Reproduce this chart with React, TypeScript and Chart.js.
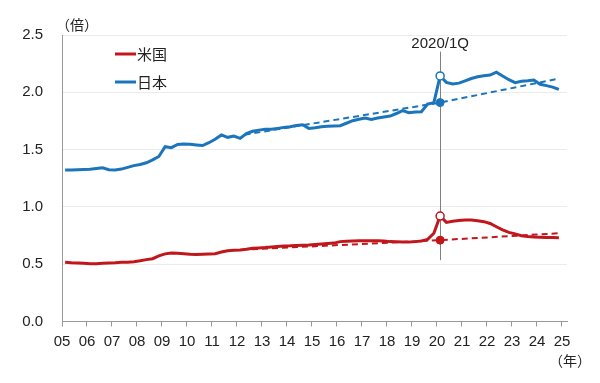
import React, { useEffect, useRef } from "react";
import { Chart, registerables } from "chart.js";

Chart.register(...registerables);

const startYear = 2005;
const tickLabels = ["05","06","07","08","09","10","11","12","13","14","15","16","17","18","19","20","21","22","23","24","25"];

// Quarterly values, 2005Q1 .. 2024Q4
const japan = [
  1.322, 1.322, 1.325, 1.327,
  1.328, 1.335, 1.342, 1.325,
  1.322, 1.330, 1.345, 1.360,
  1.370, 1.385, 1.410, 1.440,
  1.525, 1.517, 1.545, 1.548,
  1.546, 1.540, 1.535, 1.560,
  1.590, 1.628, 1.607, 1.618,
  1.598, 1.640, 1.660, 1.670,
  1.677, 1.677, 1.685, 1.694,
  1.700, 1.710, 1.717, 1.685,
  1.690, 1.700, 1.703, 1.706,
  1.709, 1.730, 1.752, 1.765,
  1.776, 1.764, 1.775, 1.785,
  1.793, 1.815, 1.840, 1.822,
  1.828, 1.831, 1.898, 1.910,
  2.143, 2.087, 2.072, 2.080,
  2.100, 2.120, 2.136, 2.145,
  2.150, 2.175, 2.142, 2.110,
  2.084, 2.096, 2.100, 2.107,
  2.070, 2.058, 2.045, 2.026,
];

const usa = [
  0.516, 0.512, 0.510, 0.508,
  0.505, 0.505, 0.508, 0.510,
  0.512, 0.516, 0.518, 0.522,
  0.530, 0.540, 0.548, 0.572,
  0.590, 0.598, 0.595, 0.592,
  0.586, 0.585, 0.587, 0.589,
  0.592, 0.606, 0.618, 0.621,
  0.624, 0.630, 0.640, 0.642,
  0.645, 0.650, 0.655, 0.659,
  0.660, 0.663, 0.666, 0.668,
  0.672, 0.676, 0.680, 0.684,
  0.697, 0.700, 0.702, 0.704,
  0.705, 0.705, 0.705, 0.702,
  0.697, 0.695, 0.694, 0.694,
  0.697, 0.702, 0.717, 0.770,
  0.920, 0.865, 0.875, 0.882,
  0.885, 0.886, 0.880, 0.871,
  0.855, 0.827, 0.800, 0.778,
  0.765, 0.749, 0.742, 0.737,
  0.735, 0.733, 0.732, 0.731,
];

const jpTrendX = [2012.3, 2020.125, 2024.875];
const jpTrendY = [1.63, 1.91, 2.12];
const usTrendX = [2012.6, 2020.125, 2024.875];
const usTrendY = [0.63, 0.71, 0.77];

const markX = 2020.125;
const markLabel = "2020/1Q";
const markJp = { actual: 2.143, trend: 1.91 };
const markUs = { actual: 0.92, trend: 0.71 };
const markLineRange = [0.535, 2.355];

const RED = "#c0161c";
const BLUE = "#1b75bd";
const TEXT = "#222";
const FONT = "'Liberation Sans', 'Noto Sans CJK JP', sans-serif";
const CJK = "'Noto Sans CJK JP', sans-serif";

const qx = (i: number) => startYear + i / 4 + 0.125;

export default function App() {
  const ref = useRef<HTMLCanvasElement | null>(null);
  useEffect(() => {
    if (!ref.current) return;
    const overlay = {
      id: "overlay",
      beforeDatasetsDraw(chart: any) {
        const { ctx, scales } = chart;
        const x = scales.x.getPixelForValue(markX);
        ctx.save();
        ctx.strokeStyle = "#808080";
        ctx.lineWidth = 1;
        ctx.beginPath();
        ctx.moveTo(Math.round(x) + 0.5, scales.y.getPixelForValue(markLineRange[1]));
        ctx.lineTo(Math.round(x) + 0.5, scales.y.getPixelForValue(markLineRange[0]));
        ctx.stroke();
        ctx.restore();
      },
      afterDraw(chart: any) {
        const { ctx, scales } = chart;
        ctx.save();
        ctx.fillStyle = TEXT;
        ctx.textBaseline = "middle";
        // mark label
        ctx.font = `15px ${FONT}`;
        ctx.textAlign = "center";
        ctx.fillText(markLabel, scales.x.getPixelForValue(markX), 44);
        // unit labels
        ctx.font = `14px ${CJK}`;
        ctx.textAlign = "left";
        ctx.fillText("（倍）", 56, 25);
        ctx.fillText("（年）", 549, 361);
        // legend
        const items = [
          { label: "米国", color: RED, y: 54 },
          { label: "日本", color: BLUE, y: 82 },
        ];
        ctx.font = `15px ${CJK}`;
        for (const it of items) {
          ctx.strokeStyle = it.color;
          ctx.lineWidth = 3;
          ctx.beginPath();
          ctx.moveTo(115, it.y);
          ctx.lineTo(136, it.y);
          ctx.stroke();
          ctx.fillText(it.label, 137, it.y);
        }
        ctx.restore();
      },
    };

    const chart = new Chart(ref.current, {
      type: "scatter",
      data: {
        datasets: [
          {
            label: "hollowJp",
            data: [{ x: markX, y: markJp.actual }],
            pointRadius: 4,
            pointBorderWidth: 1.5,
            pointBackgroundColor: "#fff",
            pointBorderColor: BLUE,
            showLine: false,
          },
          {
            label: "hollowUs",
            data: [{ x: markX, y: markUs.actual }],
            pointRadius: 4,
            pointBorderWidth: 1.5,
            pointBackgroundColor: "#fff",
            pointBorderColor: RED,
            showLine: false,
          },
          {
            label: "dotJp",
            data: [{ x: markX, y: markJp.trend }],
            pointRadius: 4,
            pointBackgroundColor: BLUE,
            pointBorderColor: BLUE,
            showLine: false,
          },
          {
            label: "dotUs",
            data: [{ x: markX, y: markUs.trend }],
            pointRadius: 4,
            pointBackgroundColor: RED,
            pointBorderColor: RED,
            showLine: false,
          },
          {
            label: "日本",
            data: japan.map((v, i) => ({ x: qx(i), y: v })),
            showLine: true,
            borderColor: BLUE,
            borderWidth: 3,
            pointRadius: 0,
            tension: 0,
          },
          {
            label: "米国",
            data: usa.map((v, i) => ({ x: qx(i), y: v })),
            showLine: true,
            borderColor: RED,
            borderWidth: 3,
            pointRadius: 0,
            tension: 0,
          },
          {
            label: "jpTrend",
            data: jpTrendX.map((x, i) => ({ x, y: jpTrendY[i] })),
            showLine: true,
            borderColor: BLUE,
            borderWidth: 2,
            borderDash: [6, 4],
            pointRadius: 0,
          },
          {
            label: "usTrend",
            data: usTrendX.map((x, i) => ({ x, y: usTrendY[i] })),
            showLine: true,
            borderColor: RED,
            borderWidth: 2,
            borderDash: [6, 4],
            pointRadius: 0,
          },
        ],
      },
      options: {
        animation: false,
        responsive: false,
        maintainAspectRatio: false,
        layout: { padding: { left: 0, right: 33, top: 35, bottom: 0 } },
        plugins: { legend: { display: false }, tooltip: { enabled: false } },
        scales: {
          x: {
            type: "linear",
            min: 2005,
            max: 2025.2,
            afterFit: (s: any) => { s.height = 61.5; },
            grid: { drawOnChartArea: false, tickLength: 5, color: "#999" },
            border: { color: "#999" },
            ticks: {
              stepSize: 1,
              includeBounds: false,
              autoSkip: false,
              maxRotation: 0,
              padding: 6,
              color: TEXT,
              font: { family: FONT, size: 15 },
              callback: (v: any) => {
                const idx = Math.round(Number(v) - startYear);
                return Number.isInteger(Number(v)) ? tickLabels[idx] : "";
              },
            },
          },
          y: {
            min: 0,
            max: 2.5,
            afterFit: (s: any) => { s.width = 62; },
            grid: { color: "#ebebeb", drawTicks: false },
            border: { color: "#999" },
            ticks: {
              stepSize: 0.5,
              padding: 19,
              color: TEXT,
              font: { family: FONT, size: 15 },
              callback: (v: any) => Number(v).toFixed(1),
            },
          },
        },
      },
      plugins: [overlay],
    } as any);
    return () => chart.destroy();
  }, []);

  return (
    <div style={{ position: "fixed", left: 0, top: 0, width: 600, height: 383, background: "#fff" }}>
      <canvas ref={ref} width={600} height={383} style={{ width: 600, height: 383 }} />
    </div>
  );
}
